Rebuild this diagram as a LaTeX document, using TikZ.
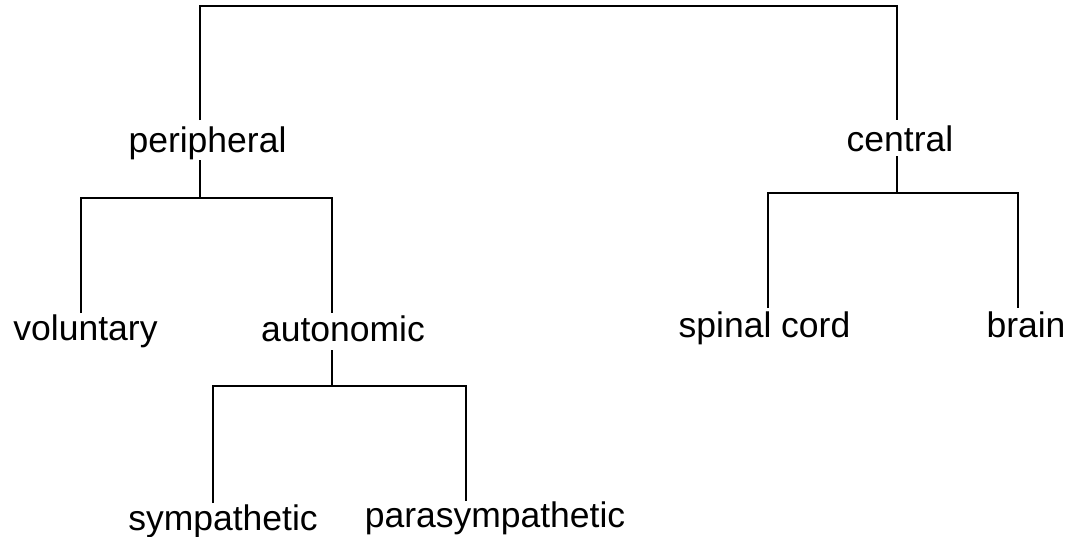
\documentclass[tikz,border=0pt]{standalone}
\usepackage{fontspec}
\setmainfont{Liberation Sans}
\begin{document}
\begin{tikzpicture}[x=1pt,y=-1pt,
  lbl/.style={inner sep=0pt,outer sep=0pt,anchor=base,
    font=\fontsize{35.5}{40}\selectfont},
  link/.style={line width=2.6pt,black}]
\useasboundingbox (0,0) rectangle (1078,536);
% labels
\node[lbl,text height=32pt,text depth=8pt] (peripheral) at (207.5,152) {peripheral};
\node[lbl,text height=31pt,text depth=5pt] (central) at (900,151) {central};
\node[lbl,text height=27pt] (voluntary) at (85.5,340) {voluntary};
\node[lbl,text height=28pt,text depth=9pt] (autonomic) at (343,341) {autonomic};
\node[lbl,text height=29pt] (spinalcord) at (764.5,337) {spinal cord};
\node[lbl,text height=29pt] (brain) at (1026,337) {brain};
\node[lbl,text height=27pt] (sympathetic) at (223,530) {sympathetic};
\node[lbl,text height=26pt] (parasympathetic) at (495,527) {parasympathetic};
% junctions
\coordinate (root) at (548,6);
\coordinate (pj) at (200,198);
\coordinate (pjl) at (81,198);
\coordinate (pjr) at (332,198);
\coordinate (aj) at (332,386);
\coordinate (ajl) at (213,386);
\coordinate (ajr) at (466,386);
\coordinate (cj) at (897,193);
\coordinate (cjl) at (768,193);
\coordinate (cjr) at (1018,193);
% connectors
\draw[link] (peripheral.north -| pj) |- (root) -| (central.north -| cj);
\draw[link] (peripheral.south -| pj) -- (pj);
\draw[link] (voluntary.north -| pjl) |- (pjr) -- (autonomic.north -| pjr);
\draw[link] (autonomic.south -| aj) -- (aj);
\draw[link] (sympathetic.north -| ajl) |- (ajr) -- (parasympathetic.north -| ajr);
\draw[link] (central.south -| cj) -- (cj);
\draw[link] (spinalcord.north -| cjl) |- (cjr) -- (brain.north -| cjr);
\end{tikzpicture}
\end{document}
